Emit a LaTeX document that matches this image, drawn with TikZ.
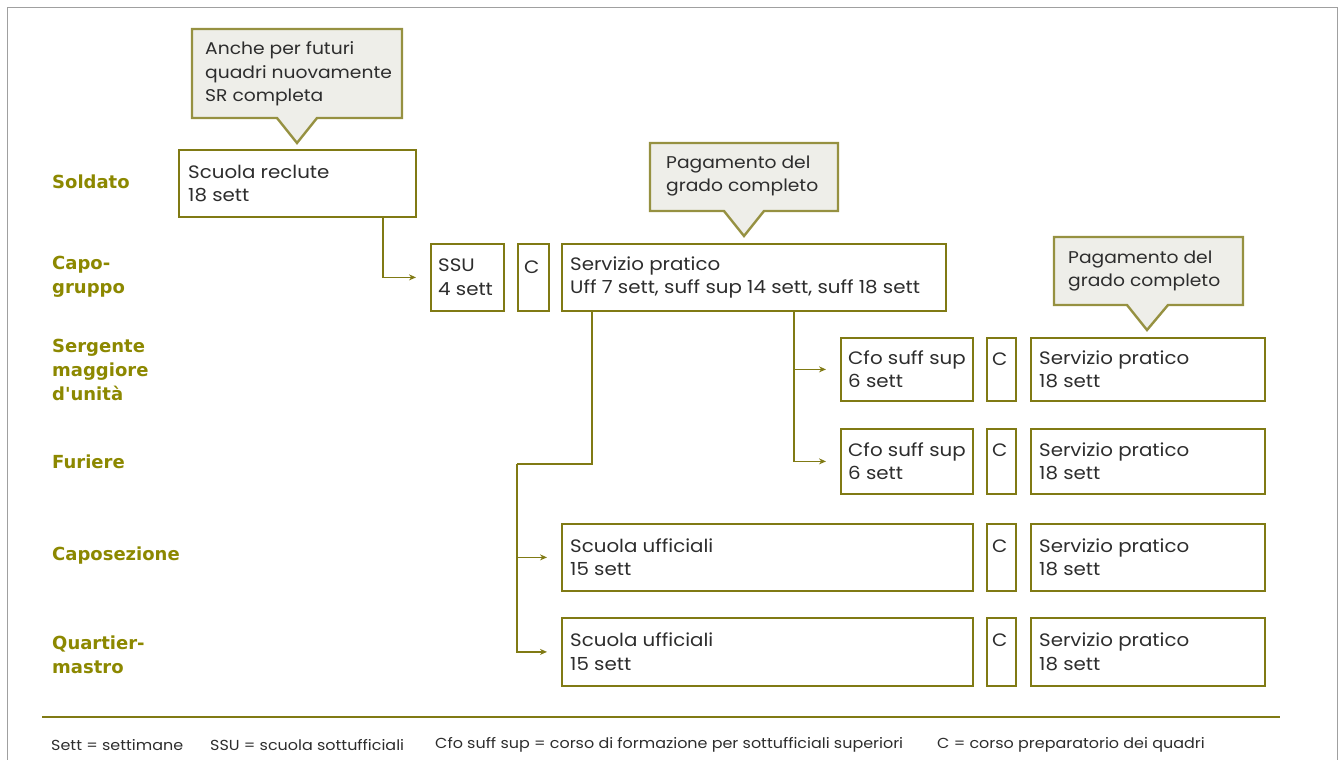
\documentclass[tikz,border=0pt]{standalone}
\usepackage{fontspec}
\usetikzlibrary{arrows.meta,calc}
\newfontfamily\boxfont{Poppins}[FakeStretch=1.1]
\newfontfamily\labfont{DejaVu Sans}
\definecolor{olv}{RGB}{128,122,20}
\definecolor{lab}{RGB}{140,136,0}
\definecolor{calfill}{RGB}{238,238,233}
\definecolor{calline}{RGB}{150,145,65}
\definecolor{frm}{RGB}{160,160,160}
\definecolor{txc}{RGB}{45,45,45}
\tikzset{
  bx/.style={draw=olv, line width=1.8pt, fill=white, rectangle, inner sep=0pt, anchor=north west},
  tx/.style={text=txc, font=\boxfont\fontsize{18}{23.5}\selectfont, align=left, inner sep=0pt, anchor=west},
  ctx/.style={tx, font=\boxfont\fontsize{17}{23.5}\selectfont},
  rk/.style={text=lab, font=\labfont\bfseries\fontsize{18}{24}\selectfont, align=left, inner sep=0pt, anchor=west},
  cal/.style={draw=calline, line width=2.4pt, fill=calfill, line join=miter},
  ln/.style={draw=olv, line width=1.8pt},
  cn/.style={draw=olv, line width=1.8pt, -{Stealth[length=7pt,width=6pt]}, shorten >=14pt},
  ft/.style={text=txc, font=\boxfont\fontsize{14.5}{16}\selectfont, inner sep=0pt, anchor=west},
}
\begin{document}
\begin{tikzpicture}[x=1pt,y=-1pt]
\useasboundingbox (0,0) rectangle (1339,760);
\draw[frm, line width=1pt] (7,775) -- (7,8) -- (1337,8) -- (1337,775);

% rank labels
\node[rk] (r1) at (52,182) {Soldato};
\node[rk] (r2) at (52,277) {Capo-\\gruppo};
\node[rk] (r3) at (52,370) {Sergente\\maggiore\\d'unità};
\node[rk] (r4) at (52,462) {Furiere};
\node[rk] (r5) at (52,556) {Caposezione};
\node[rk] (r6) at (52,655) {Quartier-\\mastro};

% callouts
\draw[cal] (192,29) -- (402,29) -- (402,118) -- (317,118) -- (297,143) -- (277,118) -- (192,118) -- cycle;
\node[ctx] (ca) at (205,74) {Anche per futuri\\quadri nuovamente\\SR completa};
\draw[cal] (650,143) -- (838,143) -- (838,211) -- (764,211) -- (744,236) -- (724,211) -- (650,211) -- cycle;
\node[ctx] (cb) at (666,176) {Pagamento del\\grado completo};
\draw[cal] (1054,237) -- (1243,237) -- (1243,305) -- (1168,305) -- (1147,330) -- (1127,305) -- (1054,305) -- cycle;
\node[ctx] (cc) at (1068,271) {Pagamento del\\grado completo};

% row 1
\node[bx, minimum width=237pt, minimum height=67pt] (sr) at (178,149) {};
\node[tx] (srt) at ([xshift=10pt]sr.west) {Scuola reclute\\18 sett};
% row 2
\node[bx, minimum width=73pt, minimum height=67pt] (ssu) at (430,243) {};
\node[tx] (ssut) at ([xshift=8pt]ssu.west) {SSU\\4 sett};
\node[bx, minimum width=31pt, minimum height=67pt] (c1) at (517,243) {};
\node[tx, anchor=base west] (c1t) at ([xshift=7pt,yshift=-30pt]c1.north west) {C};
\node[bx, minimum width=384pt, minimum height=67pt] (sp1) at (561,243) {};
\node[tx] (sp1t) at ([xshift=9pt]sp1.west) {Servizio pratico\\Uff 7 sett, suff sup 14 sett, suff 18 sett};
% row 3
\node[bx, minimum width=132pt, minimum height=63pt] (cf1) at (840,337) {};
\node[tx] (cf1t) at ([xshift=8pt]cf1.west) {Cfo suff sup\\6 sett};
\node[bx, minimum width=29pt, minimum height=63pt] (c2) at (986,337) {};
\node[tx, anchor=base west] (c2t) at ([xshift=6pt,yshift=-28pt]c2.north west) {C};
\node[bx, minimum width=234pt, minimum height=63pt] (sp2) at (1030,337) {};
\node[tx] (sp2t) at ([xshift=9pt]sp2.west) {Servizio pratico\\18 sett};
% row 4
\node[bx, minimum width=132pt, minimum height=65pt] (cf2) at (840,428) {};
\node[tx] (cf2t) at ([xshift=8pt]cf2.west) {Cfo suff sup\\6 sett};
\node[bx, minimum width=29pt, minimum height=65pt] (c3) at (986,428) {};
\node[tx, anchor=base west] (c3t) at ([xshift=6pt,yshift=-28pt]c3.north west) {C};
\node[bx, minimum width=234pt, minimum height=65pt] (sp3) at (1030,428) {};
\node[tx] (sp3t) at ([xshift=9pt]sp3.west) {Servizio pratico\\18 sett};
% row 5
\node[bx, minimum width=411pt, minimum height=67pt] (su1) at (561,523) {};
\node[tx] (su1t) at ([xshift=9pt]su1.west) {Scuola ufficiali\\15 sett};
\node[bx, minimum width=29pt, minimum height=67pt] (c4) at (986,523) {};
\node[tx, anchor=base west] (c4t) at ([xshift=6pt,yshift=-29pt]c4.north west) {C};
\node[bx, minimum width=234pt, minimum height=67pt] (sp4) at (1030,523) {};
\node[tx] (sp4t) at ([xshift=9pt]sp4.west) {Servizio pratico\\18 sett};
% row 6
\node[bx, minimum width=411pt, minimum height=68pt] (su2) at (561,617) {};
\node[tx] (su2t) at ([xshift=9pt]su2.west) {Scuola ufficiali\\15 sett};
\node[bx, minimum width=29pt, minimum height=68pt] (c5) at (986,617) {};
\node[tx, anchor=base west] (c5t) at ([xshift=6pt,yshift=-29pt]c5.north west) {C};
\node[bx, minimum width=234pt, minimum height=68pt] (sp5) at (1030,617) {};
\node[tx] (sp5t) at ([xshift=9pt]sp5.west) {Servizio pratico\\18 sett};

% connectors
\coordinate (k1) at (383,0);
\coordinate (k2) at (794,0);
\coordinate (k3) at (592,0);
\coordinate (k4) at (517,464);
\draw[cn] (sr.south -| k1) |- (ssu.west);
\draw[cn] (sp1.south -| k2) |- (cf2.west);
\draw[cn] (k2 |- cf1.west) -- (cf1.west);
\draw[ln] (sp1.south -| k3) |- (k4);
\draw[cn] (k4) |- (su2.west);
\draw[cn] (k4 |- su1.west) -- (su1.west);

% footer
\coordinate (f1) at (42,717);
\coordinate (f2) at (1280,717);
\draw[ln, line width=1.6pt] (f1) -- (f2);
\node[ft] (l1) at (51,745) {Sett = settimane};
\node[ft] (l2) at (210,745) {SSU = scuola sottufficiali};
\node[ft] (l3) at (435,745) {Cfo suff sup = corso di formazione per sottufficiali superiori};
\node[ft] (l4) at (937,745) {C = corso preparatorio dei quadri};
\end{tikzpicture}
\end{document}
